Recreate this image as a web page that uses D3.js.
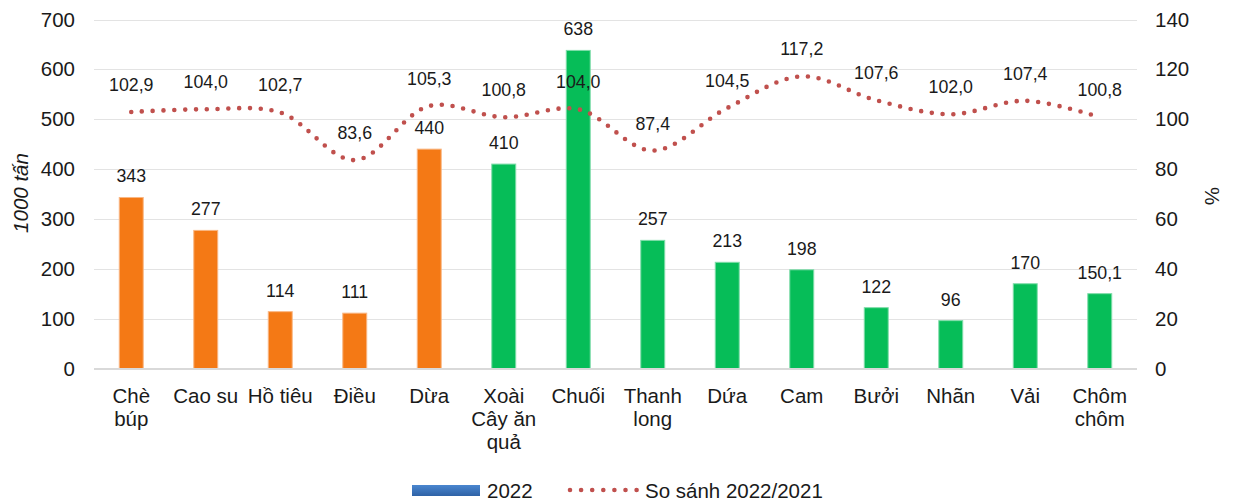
<!DOCTYPE html>
<html>
<head>
<meta charset="utf-8">
<script src="https://cdn.jsdelivr.net/npm/d3@7"></script>
<style>
  html, body { margin: 0; padding: 0; background: #fff; }
  svg { display: block; font-family: "Liberation Sans", Arial, sans-serif; }
</style>
</head>
<body>
<svg id="chart" width="1233" height="503"></svg>
<script>
// Sản lượng một số cây lâu năm năm 2022 (nghìn tấn) và chỉ số so với 2021 (%)
const categories = [
  ["Chè", "búp"], ["Cao su"], ["Hồ tiêu"], ["Điều"], ["Dừa"],
  ["Xoài", "Cây ăn", "quả"], ["Chuối"], ["Thanh", "long"], ["Dứa"],
  ["Cam"], ["Bưởi"], ["Nhãn"], ["Vải"], ["Chôm", "chôm"]
];
const output2022 = [343, 277, 114, 111, 440, 410, 638, 257, 213, 198, 122, 96, 170, 150.1];
const outputLabels = ["343", "277", "114", "111", "440", "410", "638", "257", "213", "198", "122", "96", "170", "150,1"];
const growth = [102.9, 104.0, 102.7, 83.6, 105.3, 100.8, 104.0, 87.4, 104.5, 117.2, 107.6, 102.0, 107.4, 100.8];
const groups = ["industrial", "industrial", "industrial", "industrial", "industrial",
  "fruit", "fruit", "fruit", "fruit", "fruit", "fruit", "fruit", "fruit", "fruit"];
const leftTicks = [0, 100, 200, 300, 400, 500, 600, 700];
const rightTicks = [0, 20, 40, 60, 80, 100, 120, 140];

const fill = { industrial: "#f47915", fruit: "#06bd58" };
const edge = { industrial: "#f9b784", fruit: "#7fdca9" };
const lineColor = "#c0504d";
const fmt = v => v.toFixed(1).replace(".", ",");

const svg = d3.select("#chart");
const m = { left: 94, right: 1137, top: 19.5, bottom: 368.5 };

const x = d3.scaleBand()
  .domain(d3.range(categories.length))
  .range([m.left, m.right])
  .paddingInner(0.665).paddingOuter(0.3325);
const yL = d3.scaleLinear().domain([0, 700]).range([m.bottom, m.top]);
const yR = d3.scaleLinear().domain([0, 140]).range([m.bottom, m.top]);
const cx = i => x(i) + x.bandwidth() / 2;

// gridlines
svg.append("g").selectAll("line").data(leftTicks.slice(1)).join("line")
  .attr("x1", m.left).attr("x2", m.right)
  .attr("y1", d => Math.round(yL(d)) + 0.5).attr("y2", d => Math.round(yL(d)) + 0.5)
  .attr("stroke", "#e3e3e3").attr("stroke-width", 1);

// left axis
const axL = svg.append("g").attr("transform", `translate(${m.left},0)`)
  .call(d3.axisLeft(yL).tickValues(leftTicks).tickSize(0).tickPadding(19));
axL.select(".domain").remove();
axL.selectAll("text").attr("font-size", 20.5).attr("fill", "#1a1a1a")
  .attr("font-family", "Liberation Sans, Arial, sans-serif");

// right axis
const axR = svg.append("g").attr("transform", `translate(${m.right},0)`)
  .call(d3.axisRight(yR).tickValues(rightTicks).tickSize(0).tickPadding(18));
axR.select(".domain").remove();
axR.selectAll("text").attr("font-size", 20.5).attr("fill", "#1a1a1a")
  .attr("font-family", "Liberation Sans, Arial, sans-serif");

// bars
svg.append("g").selectAll("rect").data(output2022).join("rect")
  .attr("x", (d, i) => x(i) + 0.5)
  .attr("y", d => yL(d))
  .attr("width", x.bandwidth() - 1)
  .attr("height", d => yL(0) - yL(d))
  .attr("fill", (d, i) => fill[groups[i]])
  .attr("stroke", (d, i) => edge[groups[i]])
  .attr("stroke-width", 1);

// baseline
svg.append("line")
  .attr("x1", m.left).attr("x2", m.right)
  .attr("y1", m.bottom + 0.5).attr("y2", m.bottom + 0.5)
  .attr("stroke", "#d9d9d9").attr("stroke-width", 2);

// bar value labels
svg.append("g").selectAll("text").data(output2022).join("text")
  .attr("x", (d, i) => cx(i))
  .attr("y", d => yL(d) - 21)
  .attr("text-anchor", "middle").attr("dominant-baseline", "central")
  .attr("font-size", 17.8).attr("fill", "#1a1a1a")
  .text((d, i) => outputLabels[i]);

// category labels
const cat = svg.append("g").selectAll("text").data(categories).join("text")
  .attr("x", (d, i) => cx(i))
  .attr("text-anchor", "middle")
  .attr("font-size", 20.5).attr("fill", "#1a1a1a");
cat.selectAll("tspan").data((d, i) => d.map(s => ({ s, i }))).join("tspan")
  .attr("x", d => cx(d.i))
  .attr("y", (d, j) => 395 + j * 23)
  .attr("dominant-baseline", "central")
  .text(d => d.s);

// growth line (smoothed, round dots)
const line = d3.line()
  .x((d, i) => cx(i))
  .y(d => yR(d))
  .curve(d3.curveCatmullRom.alpha(0.5));
svg.append("path")
  .datum(growth)
  .attr("d", line)
  .attr("fill", "none")
  .attr("stroke", lineColor)
  .attr("stroke-width", 4.6)
  .attr("stroke-linecap", "round")
  .attr("stroke-dasharray", "0 10.8");

// growth labels
svg.append("g").selectAll("text").data(growth).join("text")
  .attr("x", (d, i) => cx(i))
  .attr("y", d => yR(d) - 27)
  .attr("text-anchor", "middle").attr("dominant-baseline", "central")
  .attr("font-size", 17.8).attr("fill", "#1a1a1a")
  .text(d => fmt(d));

// axis titles
svg.append("text")
  .attr("transform", "translate(20,193) rotate(-90)")
  .attr("text-anchor", "middle").attr("dominant-baseline", "central")
  .attr("font-size", 20.5).attr("font-style", "italic").attr("fill", "#1a1a1a")
  .text("1000 tấn");
svg.append("text")
  .attr("transform", "translate(1212,196) rotate(90)")
  .attr("text-anchor", "middle").attr("dominant-baseline", "central")
  .attr("font-size", 20.5).attr("fill", "#1a1a1a")
  .text("%");

// legend
const defs = svg.append("defs");
const grad = defs.append("linearGradient").attr("id", "legendBlue")
  .attr("x1", 0).attr("y1", 0).attr("x2", 0).attr("y2", 1);
grad.append("stop").attr("offset", "0%").attr("stop-color", "#4a86cf");
grad.append("stop").attr("offset", "100%").attr("stop-color", "#2f62a6");

const lg = svg.append("g");
lg.append("rect").attr("x", 412).attr("y", 485).attr("width", 68).attr("height", 11)
  .attr("fill", "url(#legendBlue)");
lg.append("text").attr("x", 487).attr("y", 490.5).attr("dominant-baseline", "central")
  .attr("font-size", 20.5).attr("fill", "#1a1a1a").text("2022");
lg.append("line").attr("x1", 570).attr("x2", 637).attr("y1", 490).attr("y2", 490)
  .attr("stroke", lineColor).attr("stroke-width", 4.6)
  .attr("stroke-linecap", "round").attr("stroke-dasharray", "0 11.1");
lg.append("text").attr("x", 645).attr("y", 490.5).attr("dominant-baseline", "central")
  .attr("font-size", 20.5).attr("fill", "#1a1a1a").text("So sánh 2022/2021");
</script>
</body>
</html>
